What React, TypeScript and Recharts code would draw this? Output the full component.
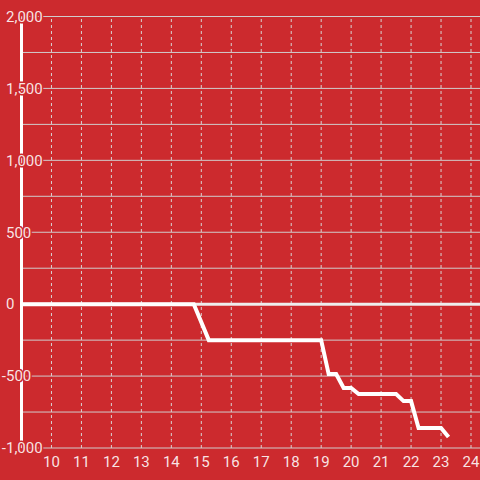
import { LineChart, Line, XAxis, YAxis, ReferenceLine } from "recharts";

const BG = "#CC2A2E";
const GRID = "#D0CCCC";
const VGRID = "#D8D4D4";
const TEXT = "rgba(255,255,255,0.88)";
const FONT = "Roboto, sans-serif";

// step-like cumulative series
const xs = [9, 14.75, 15.25, 19.0, 19.25, 19.5, 19.75, 20.0, 20.25, 21.5, 21.75, 22.0, 22.25, 23.0, 23.25];
const ys = [0, 0, -250, -250, -486, -486, -583, -583, -625, -625, -674, -674, -861, -861, -924];

const xTicks = [10, 11, 12, 13, 14, 15, 16, 17, 18, 19, 20, 21, 22, 23, 24];
const yTicks = [-1000, -750, -500, -250, 0, 250, 500, 750, 1000, 1250, 1500, 1750, 2000];

const data = xs.map((x, i) => ({ x, y: ys[i] }));

let ctx: CanvasRenderingContext2D | null = null;
function textWidth(s: string) {
  if (!ctx) ctx = document.createElement("canvas").getContext("2d");
  if (!ctx) return s.length * 8;
  ctx.font = "15px Roboto";
  return ctx.measureText(s).width;
}

function YTick(props: any) {
  const { y, payload } = props;
  const v = payload.value as number;
  if (v % 500 !== 0) return null;
  const label = v.toLocaleString("en-US");
  // digits line up on the left, a minus sign hangs out in front
  const left = 6 - (v < 0 ? textWidth("-") : 0);
  return (
    <text
      x={left}
      y={y}
      dy="0.35em"
      textAnchor="start"
      fill={TEXT}
      stroke={BG}
      strokeWidth={3}
      paintOrder="stroke"
      fontSize={15}
      fontFamily={FONT}
    >
      {label}
    </text>
  );
}

export default function App() {
  return (
    <div style={{ position: "absolute", left: 0, top: 0, width: 480, height: 480, background: BG }}>
      <LineChart width={480} height={480} data={data} margin={{ top: 16.5, right: 0, bottom: 0, left: 0 }}>
        {yTicks.map((t) => (
          <ReferenceLine key={"h" + t} y={t} stroke={GRID} strokeWidth={1} />
        ))}
        {xTicks.map((t) => (
          <ReferenceLine key={"v" + t} x={t} stroke={VGRID} strokeDasharray="3 3" strokeWidth={1} />
        ))}
        <ReferenceLine y={0} stroke="#EEEEEE" strokeWidth={3} />
        <Line
          type="linear"
          dataKey="y"
          stroke="#FFFFFF"
          strokeWidth={4}
          dot={false}
          isAnimationActive={false}
        />
        <XAxis
          dataKey="x"
          type="number"
          domain={[9, 24.3]}
          ticks={xTicks}
          height={32}
          tickLine={false}
          axisLine={false}
          tick={{ fill: TEXT, fontSize: 15, fontFamily: FONT }}
          interval={0}
        />
        <YAxis
          type="number"
          domain={[-1000, 2000]}
          ticks={yTicks}
          width={21.5}
          tickLine={false}
          axisLine={{ stroke: "#FFFFFF", strokeWidth: 3 }}
          tick={<YTick />}
          interval={0}
        />
      </LineChart>
    </div>
  );
}
